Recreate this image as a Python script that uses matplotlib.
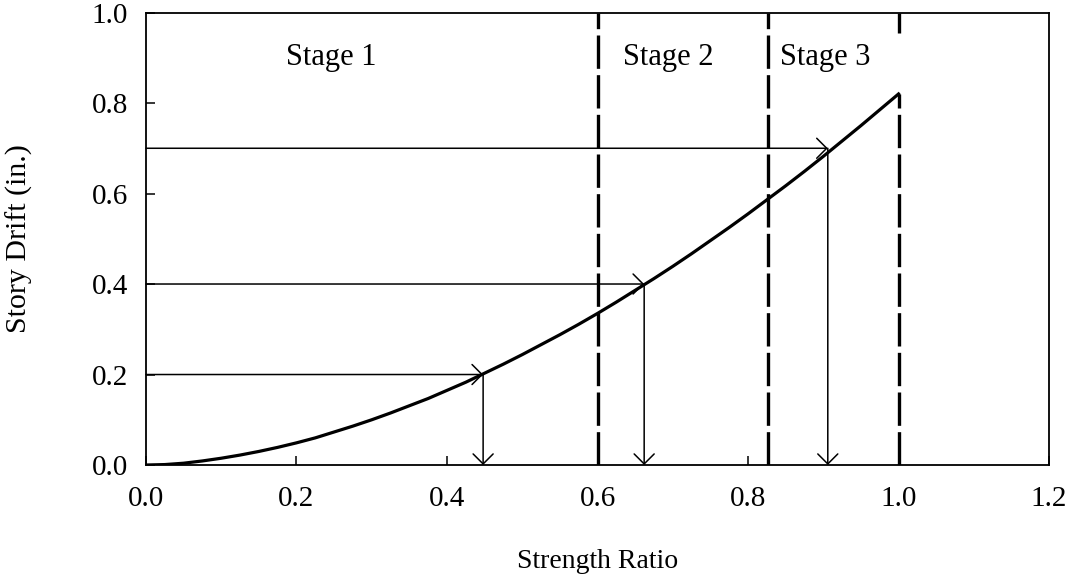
import matplotlib
matplotlib.use('Agg')
from matplotlib import pyplot as plt

strength_ratio = [0.0, 0.025, 0.05, 0.075, 0.1, 0.125, 0.15, 0.175, 0.2, 0.225, 0.25,
                  0.275, 0.3, 0.325, 0.35, 0.375, 0.4, 0.425, 0.45, 0.475, 0.5,
                  0.525, 0.55, 0.575, 0.6, 0.625, 0.65, 0.675, 0.7, 0.725, 0.75,
                  0.775, 0.8, 0.825, 0.85, 0.875, 0.9, 0.925, 0.95, 0.975, 1.0]
story_drift = [0.0, 0.001, 0.004, 0.009, 0.015, 0.022, 0.030, 0.039, 0.049, 0.060, 0.073,
               0.086, 0.100, 0.115, 0.131, 0.147, 0.165, 0.183, 0.203, 0.223, 0.244,
               0.266, 0.288, 0.311, 0.335, 0.360, 0.386, 0.412, 0.439, 0.467, 0.496,
               0.525, 0.555, 0.586, 0.617, 0.649, 0.682, 0.716, 0.750, 0.785, 0.820]

stage_limits = [0.6, 0.826, 1.0]
stage_names = ['Stage 1', 'Stage 2', 'Stage 3']
stage_label_x = [0.246, 0.694, 0.903]
stage_label_y = 0.90

drift_levels = [0.2, 0.4, 0.7]
ratio_at_level = [0.448, 0.662, 0.906]

x_ticks = [0.0, 0.2, 0.4, 0.6, 0.8, 1.0, 1.2]
y_ticks = [0.0, 0.2, 0.4, 0.6, 0.8, 1.0]


def main() -> None:
    plt.rcParams['font.family'] = ['Liberation Serif', 'DejaVu Serif']
    fig = plt.figure(figsize=(10.71, 5.82), dpi=100)
    ax = fig.add_axes([0.1363, 0.201, 0.8432, 0.7775])

    ax.plot(strength_ratio, story_drift, color='black', lw=2.3, zorder=3)

    dash = (0, (10, 1.9))
    for x in stage_limits:
        if x == 1.0:
            # upper part is hidden behind the Stage 3 label
            ax.vlines(x, 0, story_drift[-1], colors='black', lw=2.4, linestyles=[dash])
            ax.vlines(x, 0.955, 1.0, colors='black', lw=2.4, linestyles=[dash])
        else:
            ax.vlines(x, 0, 1.0, colors='black', lw=2.4, linestyles=[dash])

    for name, x in zip(stage_names, stage_label_x):
        ax.text(x, stage_label_y, name, ha='center', va='center', fontsize=22)

    arrow = dict(arrowstyle='->, head_length=0.5, head_width=0.5', lw=1.1,
                 color='black', shrinkA=0, shrinkB=0, mutation_scale=14.4)
    for y, x in zip(drift_levels, ratio_at_level):
        ax.annotate('', xy=(x, y), xytext=(0, y), arrowprops=arrow)
        ax.annotate('', xy=(x, 0), xytext=(x, y), arrowprops=arrow)

    ax.set_xlim(0, 1.2)
    ax.set_ylim(0, 1.0)
    ax.set_xticks(x_ticks, [f'{v:.1f}' for v in x_ticks])
    ax.set_yticks(y_ticks, [f'{v:.1f}' for v in y_ticks])
    ax.tick_params(direction='in', length=6.5, width=1.1, labelsize=21)
    ax.tick_params(axis='x', pad=15)
    ax.tick_params(axis='y', pad=13)
    for spine in ax.spines.values():
        spine.set_linewidth(1.3)

    ax.set_xlabel('Strength Ratio', fontsize=20, labelpad=27)
    ax.set_ylabel('Story Drift (in.)', fontsize=21.5)
    ax.yaxis.set_label_coords(-0.125, 0.5)

    fig.savefig('out.png', dpi=100)


if __name__ == '__main__':
    main()
